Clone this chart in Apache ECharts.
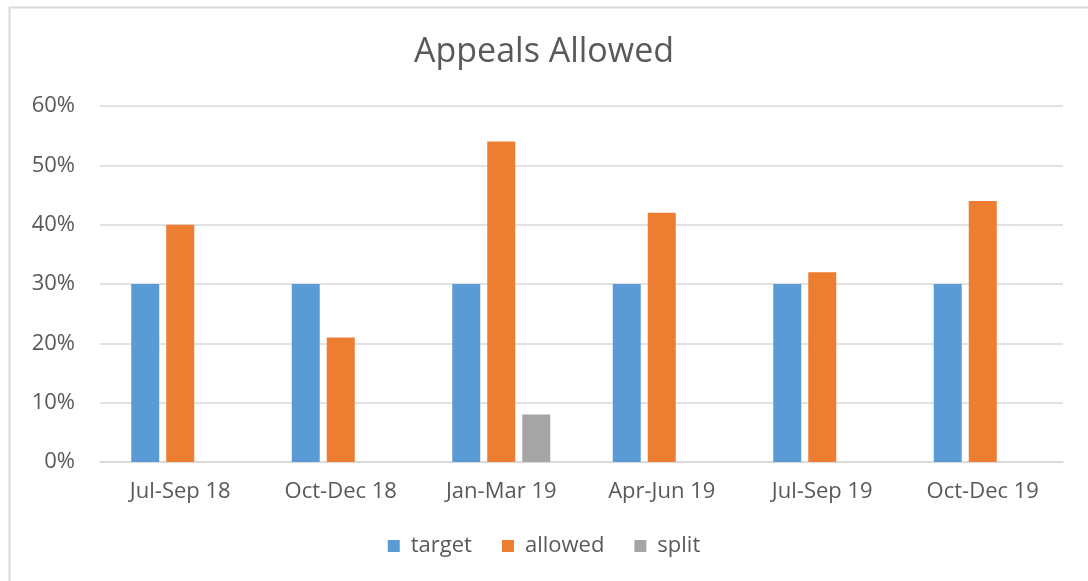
<!DOCTYPE html>
<html><head><meta charset="utf-8">
<script src="https://cdn.jsdelivr.net/npm/echarts@6/dist/echarts.min.js"></script>
<style>html,body{margin:0;padding:0;background:#fff;}#c{width:1088px;height:581px;}</style>
</head><body><div id="c"></div>
<script>
const categories = ['Jul-Sep 18','Oct-Dec 18','Jan-Mar 19','Apr-Jun 19','Jul-Sep 19','Oct-Dec 19'];
const target = [30,30,30,30,30,30];
const allowed = [40,21,54,42,32,44];
const split = [null,null,8,null,null,null];
const yTicks = [0,10,20,30,40,50,60];

const chart = echarts.init(document.getElementById('c'), null, {renderer:'canvas'});
const font = '"Open Sans", sans-serif';
chart.setOption({
  backgroundColor:'#fff',
  animation:false,
  graphic:[{type:'rect',shape:{x:9.5,y:7.5,width:1100,height:600},style:{fill:'none',stroke:'#D9D9D9',lineWidth:2}}],
  title:{text:'Appeals Allowed',left:'center',top:30,textStyle:{fontFamily:font,fontSize:34,fontWeight:'normal',color:'#595959'}},
  legend:{bottom:19,left:'center',itemWidth:12,itemHeight:12,itemGap:30,icon:'rect',
    textStyle:{fontFamily:font,fontSize:22,color:'#595959',padding:[0,0,0,6]},data:['target','allowed','split']},
  grid:{left:100,right:25,top:106,bottom:119},
  xAxis:{type:'category',data:categories,axisTick:{show:false},
    axisLine:{lineStyle:{color:'#D9D9D9',width:1.5}},
    axisLabel:{fontFamily:font,fontSize:22,color:'#595959',margin:19}},
  yAxis:{type:'value',min:yTicks[0],max:yTicks[yTicks.length-1],interval:10,
    axisLabel:{formatter:'{value}%',fontFamily:font,fontSize:22,color:'#595959',margin:25},
    splitLine:{lineStyle:{color:'#D9D9D9',width:1.5}},axisLine:{show:false},axisTick:{show:false}},
  series:[
    {name:'target',type:'bar',data:target,itemStyle:{color:'#5B9BD5'},barWidth:28,barGap:'25%',barCategoryGap:'39%'},
    {name:'allowed',type:'bar',data:allowed,itemStyle:{color:'#ED7D31'},barWidth:28},
    {name:'split',type:'bar',data:split,itemStyle:{color:'#A5A5A5'},barWidth:28}
  ]
});
</script></body></html>
